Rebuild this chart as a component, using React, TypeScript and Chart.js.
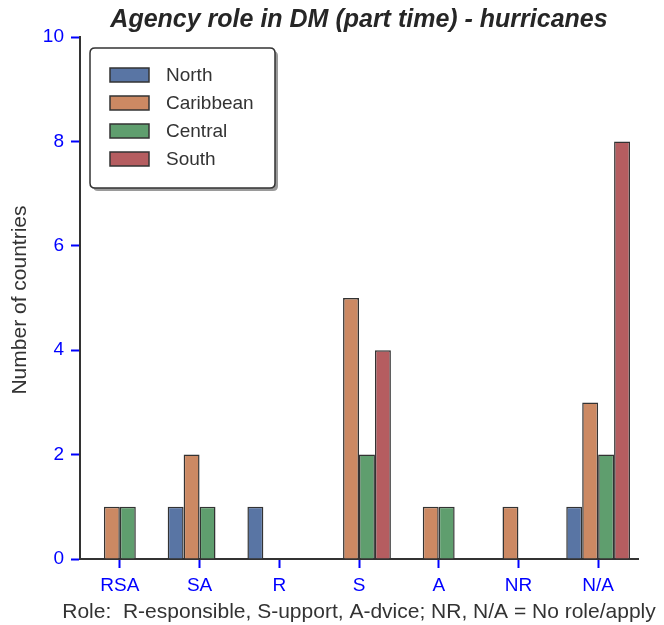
import React, { useEffect, useRef } from "react";
import { Chart, registerables } from "chart.js";

Chart.register(...registerables);

const categories = ["RSA", "SA", "R", "S", "A", "NR", "N/A"];
const north = [0, 1, 1, 0, 0, 0, 1];
const caribbean = [1, 2, 0, 5, 1, 1, 3];
const central = [1, 1, 0, 2, 1, 0, 2];
const south = [0, 0, 0, 4, 0, 0, 8];
const seriesNames = ["North", "Caribbean", "Central", "South"];
const seriesColors = ["#5975A4", "#CC8963", "#5F9E6E", "#B55D60"];
const titleText = "Agency role in DM (part time) - hurricanes";
const yTitle = "Number of countries";
const xTitle = "Role:  R-esponsible, S-upport, A-dvice; NR, N/A = No role/apply";

const FONT = "'Liberation Sans', Arial, sans-serif";

const overlayPlugin = {
  id: "overlay",
  afterDraw(chart: any) {
    const ctx = chart.ctx;
    const area = chart.chartArea;
    const cx = (area.left + area.right) / 2;
    ctx.save();
    // title
    ctx.fillStyle = "#262626";
    ctx.font = `italic bold 25px ${FONT}`;
    ctx.textAlign = "center";
    ctx.textBaseline = "middle";
    ctx.fillText(titleText, cx, 20);
    // axis titles
    ctx.fillStyle = "#333333";
    ctx.font = `21px ${FONT}`;
    ctx.fillText(xTitle, cx, 612);
    ctx.save();
    ctx.translate(20, 300);
    ctx.rotate(-Math.PI / 2);
    ctx.fillText(yTitle, 0, 0);
    ctx.restore();
    // legend
    const bx = 90, by = 48, bw = 185, bh = 140, r = 5;
    const rr = (x: number, y: number) => {
      ctx.beginPath();
      ctx.moveTo(x + r, y);
      ctx.lineTo(x + bw - r, y);
      ctx.quadraticCurveTo(x + bw, y, x + bw, y + r);
      ctx.lineTo(x + bw, y + bh - r);
      ctx.quadraticCurveTo(x + bw, y + bh, x + bw - r, y + bh);
      ctx.lineTo(x + r, y + bh);
      ctx.quadraticCurveTo(x, y + bh, x, y + bh - r);
      ctx.lineTo(x, y + r);
      ctx.quadraticCurveTo(x, y, x + r, y);
      ctx.closePath();
    };
    rr(bx + 3, by + 3);
    ctx.fillStyle = "#9a9a9a";
    ctx.fill();
    rr(bx, by);
    ctx.fillStyle = "#ffffff";
    ctx.fill();
    ctx.strokeStyle = "#333333";
    ctx.lineWidth = 1.5;
    ctx.stroke();
    ctx.font = `19px ${FONT}`;
    ctx.textAlign = "left";
    ctx.textBaseline = "middle";
    chart.data.datasets.forEach((ds: any, i: number) => {
      const cy = by + 27 + i * 28;
      ctx.fillStyle = ds.backgroundColor;
      ctx.fillRect(110, cy - 7, 39, 14);
      ctx.strokeStyle = "#333333";
      ctx.lineWidth = 1.5;
      ctx.strokeRect(110, cy - 7, 39, 14);
      ctx.fillStyle = "#333333";
      ctx.fillText(ds.label, 166, cy + 1);
    });
    ctx.restore();
  },
};

export default function App() {
  const ref = useRef<HTMLCanvasElement>(null);
  useEffect(() => {
    const values = [north, caribbean, central, south];
    const chart = new Chart(ref.current as HTMLCanvasElement, {
      type: "bar",
      data: {
        labels: categories,
        datasets: seriesNames.map((name, i) => ({
          label: name,
          data: values[i],
          backgroundColor: seriesColors[i],
          borderColor: "#333333",
          borderWidth: 1.5,
          categoryPercentage: 0.8,
          barPercentage: 1.0,
        })),
      },
      options: {
        animation: false,
        responsive: false,
        layout: { padding: { top: 37, right: 26, left: 0, bottom: 0 } },
        plugins: {
          legend: { display: false },
          title: { display: false },
          tooltip: { enabled: false },
        },
        scales: {
          x: {
            grid: {
              display: true,
              drawOnChartArea: false,
              drawTicks: true,
              tickLength: 9,
              tickColor: "#0000FF",
              tickWidth: 2,
              offset: false,
            },
            border: { display: true, color: "#333333", width: 2 },
            ticks: {
              color: "#0000FF",
              font: { family: FONT, size: 19 },
              padding: 6,
            },
            afterFit: (scale: any) => {
              scale.height = 66;
            },
          },
          y: {
            min: 0,
            max: 10,
            ticks: {
              stepSize: 2,
              color: "#0000FF",
              font: { family: FONT, size: 19 },
              padding: 7,
            },
            grid: {
              display: true,
              drawOnChartArea: false,
              drawTicks: true,
              tickLength: 9,
              tickColor: "#0000FF",
              tickWidth: 2,
            },
            border: { display: true, color: "#333333", width: 2 },
            afterFit: (scale: any) => {
              scale.width = 80;
            },
          },
        },
      },
      plugins: [overlayPlugin],
    });
    return () => chart.destroy();
  }, []);
  return (
    <div style={{ position: "absolute", left: 0, top: 0, width: 664, height: 625, background: "#fff" }}>
      <canvas ref={ref} width={664} height={625} />
    </div>
  );
}
